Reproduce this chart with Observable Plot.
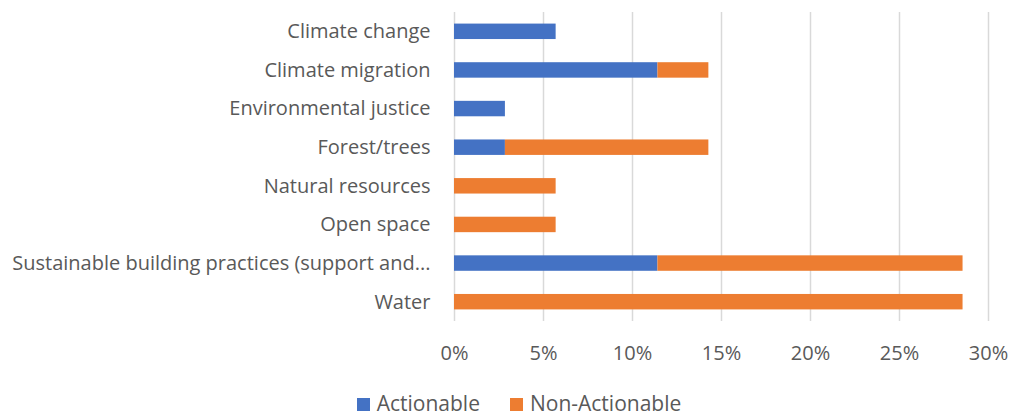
<!DOCTYPE html>
<html>
<head>
<meta charset="utf-8">
<script src="https://cdn.jsdelivr.net/npm/d3@7"></script>
<script src="https://cdn.jsdelivr.net/npm/@observablehq/plot@0.6"></script>
<style>
  body { margin: 0; background: #fff; font-family: "Open Sans", sans-serif; }
  #chart svg { display: block; }
  #legend { display: flex; justify-content: center; align-items: center; gap: 30px; height: 22px; line-height: 22px; margin-top: 12px; color: #595959; font-size: 21px; margin-left: 26px; }
  #legend div { display: flex; align-items: center; }
  #legend span.sw { display: inline-block; width: 13px; height: 13px; margin-right: 7px; position: relative; top: 1px; }
</style>
</head>
<body>
<div id="chart"></div>
<div id="legend"></div>
<script>
// Topics, top to bottom
const categories = [
  "Climate change",
  "Climate migration",
  "Environmental justice",
  "Forest/trees",
  "Natural resources",
  "Open space",
  "Sustainable building practices (support and...",
  "Water"
];
// Share of responses (fraction) per series
const actionable    = [0.0571, 0.1143, 0.0286, 0.0286, 0, 0, 0.1143, 0];
const nonActionable = [0, 0.0286, 0, 0.1143, 0.0571, 0.0571, 0.1714, 0.2857];
const seriesNames = ["Actionable", "Non-Actionable"];
const seriesColors = ["#4472C4", "#ED7D31"];
const xTicks = [0, 0.05, 0.10, 0.15, 0.20, 0.25, 0.30];

const rows = categories.flatMap((c, i) => [
  {category: c, series: seriesNames[0], value: actionable[i]},
  {category: c, series: seriesNames[1], value: nonActionable[i]}
]);

const chart = Plot.plot({
  width: 1012,
  height: 380,
  marginTop: 12,
  marginBottom: 59,
  marginLeft: 454,
  marginRight: 24,
  style: {fontFamily: "'Open Sans', sans-serif", fontSize: "20px", color: "#595959"},
  x: {domain: [0, 0.30], ticks: xTicks, tickFormat: d => Math.round(d * 100) + "%", label: null},
  y: {domain: categories, label: null, paddingInner: 0.6, paddingOuter: 0.3, round: false},
  color: {domain: seriesNames, range: seriesColors},
  marks: [
    Plot.gridX(xTicks, {stroke: "#d9d9d9", strokeOpacity: 1, strokeWidth: 1.5}),
    Plot.barX(rows, Plot.stackX({x: "value", y: "category", fill: "series", order: seriesNames})),
    Plot.axisX({ticks: xTicks, tickSize: 0, tickPadding: 24, tickFormat: d => Math.round(d * 100) + "%", fill: "#595959", label: null}),
    Plot.axisY({tickSize: 0, tickPadding: 24, fill: "#595959", label: null, textOverflow: null})
  ]
});
document.getElementById("chart").appendChild(chart);

const legend = document.getElementById("legend");
seriesNames.forEach((name, i) => {
  const item = document.createElement("div");
  item.innerHTML = `<span class="sw" style="background:${seriesColors[i]}"></span>${name}`;
  legend.appendChild(item);
});
</script>
</body>
</html>
